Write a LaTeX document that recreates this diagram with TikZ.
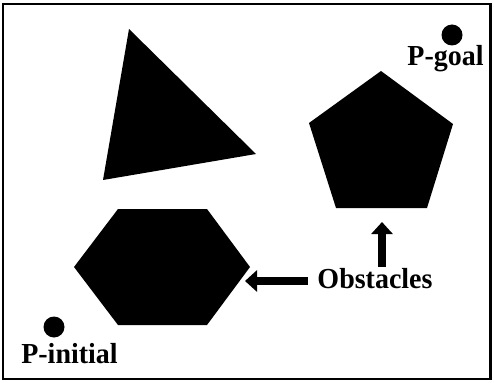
\documentclass[tikz,border=0pt]{standalone}
\usepackage{fontspec}
\setmainfont{Liberation Serif}
\usetikzlibrary{arrows.meta}
\newcommand{\narrow}[1]{\scalebox{0.965}[1]{#1}}
\begin{document}
\begin{tikzpicture}[x=1pt,y=-1pt,
  obstacle/.style={fill=black,draw=none},
  label/.style={font=\fontsize{29}{32}\selectfont\bfseries,inner sep=0pt,anchor=base},
  dot/.style={circle,fill=black,minimum size=21pt,inner sep=0pt},
  pointer/.style={line width=7.5pt,-{Triangle[length=12pt,width=21pt]}}]
  \useasboundingbox (0,0) rectangle (494,382);
  \draw[line width=2.6pt] (3,4) rectangle (490.5,379);

  % triangle
  \coordinate (t1) at (129,29);
  \coordinate (t2) at (256,154);
  \coordinate (t3) at (103,180);
  \fill[obstacle] (t1) -- (t2) -- (t3) -- cycle;

  % pentagon
  \coordinate (p1) at (381,71);
  \coordinate (p2) at (453,124);
  \coordinate (p3) at (427,208);
  \coordinate (p4) at (336,208);
  \coordinate (p5) at (309,123);
  \fill[obstacle] (p1) -- (p2) -- (p3) -- (p4) -- (p5) -- cycle;

  % hexagon
  \coordinate (h1) at (118,209);
  \coordinate (h2) at (207,209);
  \coordinate (h3) at (250,267);
  \coordinate (h4) at (207,325);
  \coordinate (h5) at (118,325);
  \coordinate (h6) at (74,267);
  \fill[obstacle] (h1) -- (h2) -- (h3) -- (h4) -- (h5) -- (h6) -- cycle;

  % start and goal points
  \node[dot] (goal) at (452,35) {};
  \node[label] (goaltxt) at (445.5,66) {\narrow{P-goal}};
  \node[dot] (init) at (54,327) {};
  \node[label] (inittxt) at (69.5,363) {\narrow{P-initial}};

  % obstacle label and pointers
  \node[label] (obs) at (375,288) {\narrow{Obstacles}};
  \coordinate (hstart) at (308,281);
  \coordinate (htip) at (245,281);
  \coordinate (vstart) at (382,267);
  \coordinate (vtip) at (382,222);
  \draw[pointer] (hstart) -- (htip);
  \draw[pointer] (vstart) -- (vtip);
\end{tikzpicture}
\end{document}
